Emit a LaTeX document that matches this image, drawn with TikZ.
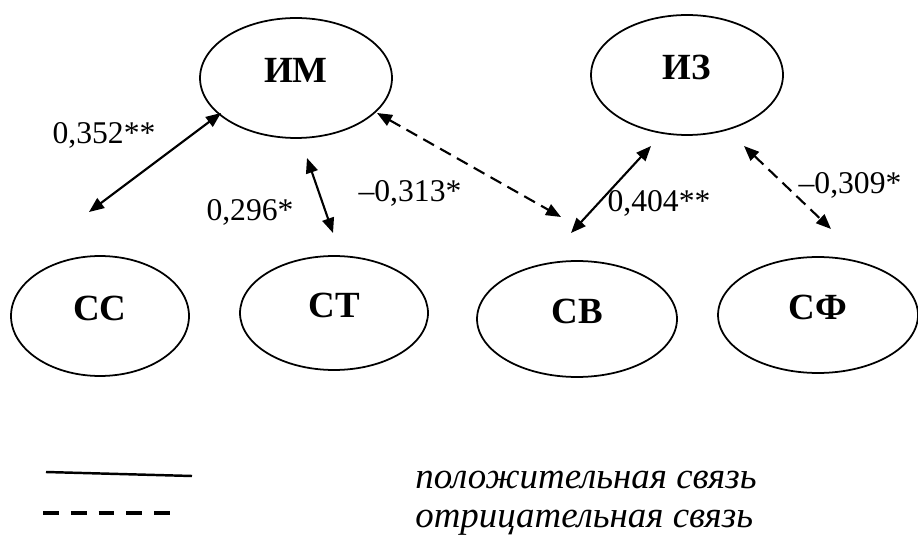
\documentclass[tikz,border=0pt]{standalone}
\usepackage{fontspec}
\setmainfont{Liberation Serif}
\usetikzlibrary{shapes.geometric,arrows.meta}

\begin{document}
\begin{tikzpicture}[x=0.02cm,y=-0.02cm,
        factor/.style={ellipse,draw,line width=1pt,inner sep=0pt,text depth=0.3cm,font=\fontsize{21}{24}\selectfont\bfseries},
        link/.style={line width=1.2pt,{Triangle[length=0.3cm,width=0.24cm]}-{Triangle[length=0.3cm,width=0.24cm]}},
        neglink/.style={link,dash pattern=on 7pt off 4pt},
        coef/.style={inner sep=0pt,font=\fontsize{18}{20}\selectfont},
        legend/.style={anchor=west,inner sep=0pt,font=\fontsize{21}{23}\selectfont\itshape}]
        \useasboundingbox (0,0) rectangle (918,536);

        % Draw the factors
        \node[factor,minimum width=3.84cm,minimum height=2.4cm] (IM) at (296,78) {ИМ};
        \node[factor,minimum width=3.84cm,minimum height=2.4cm] (IZ) at (687,75) {ИЗ};
        \node[factor,minimum width=3.56cm,minimum height=2.4cm] (SS) at (100,316) {СС};
        \node[factor,minimum width=3.76cm,minimum height=2.28cm] (ST) at (334,313) {СТ};
        \node[factor,minimum width=4cm,minimum height=2.32cm] (SV) at (577,319) {СВ};
        \node[factor,minimum width=4cm,minimum height=2.32cm] (SF) at (818,315) {СФ};

        % Arrow ends
        \coordinate (imA) at (221,113); \coordinate (ssA) at (89,212);
        \coordinate (imB) at (307,158); \coordinate (stB) at (333,233);
        \coordinate (imC) at (377,113); \coordinate (svC) at (561,217);
        \coordinate (izD) at (651,146); \coordinate (svD) at (571,233);
        \coordinate (izE) at (744,146); \coordinate (sfE) at (831,229);

        \draw[link] (ssA) -- (imA); % IM - SS
        \draw[link] (imB) -- (stB); % IM - ST
        \draw[neglink] (imC) -- (svC); % IM - SV
        \draw[link] (svD) -- (izD); % IZ - SV
        \draw[neglink] (izE) -- (sfE); % IZ - SF

        % Coefficients
        \node[coef] (cA) at (104,135) {0,352**};
        \node[coef] (cB) at (250,212) {0,296*};
        \node[coef] (cC) at (410,193) {–0,313*};
        \node[coef] (cD) at (659,203) {0,404**};
        \node[coef] (cE) at (850,185) {–0,309*};

        % Legend
        \draw[line width=1.4pt] (46,472) -- (192,476);
        \draw[line width=2.3pt,dash pattern=on 9pt off 6.8pt] (43,513) -- (171,513);
        \node[legend] (lpos) at (415,480) {положительная связь};
        \node[legend] (lneg) at (415,523) {отрицательная связь};
    \end{tikzpicture}
\end{document}
